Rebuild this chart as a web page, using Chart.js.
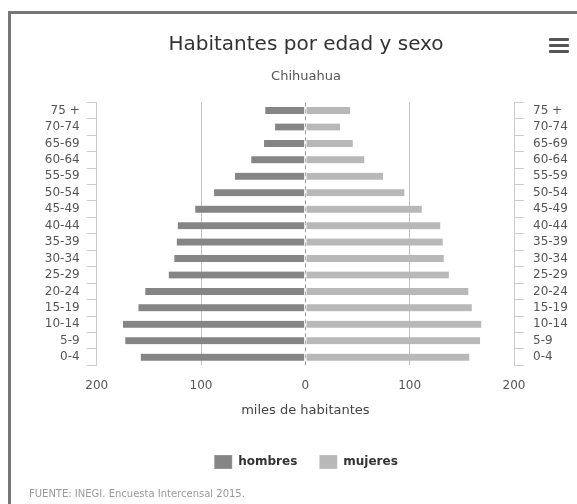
<!DOCTYPE html>
<html>
<head>
<meta charset="utf-8">
<script src="https://cdn.jsdelivr.net/npm/chart.js@4.4.1/dist/chart.umd.min.js"></script>
<style>
  html, body { margin: 0; padding: 0; background: #fff; overflow: hidden; width: 577px; height: 504px; }
  #frame { position: absolute; left: 8px; top: 11px; width: 594px; height: 520px; border: 3px solid #777; }
  #chart { position: absolute; left: 0; top: 0; }
  #menu { position: absolute; left: 538px; top: 24px; width: 20px; }
  #menu span { display: block; height: 3px; background: #555; margin-bottom: 3px; border-radius: 1px; }
  #source { position: absolute; left: 18px; top: 474px; font: 10px "DejaVu Sans", sans-serif; color: #999; white-space: nowrap; }
</style>
</head>
<body>
<div id="frame">
  <canvas id="chart" width="590" height="490" style="width:590px;height:490px"></canvas>
  <div id="menu"><span></span><span></span><span></span></div>
  <div id="source">FUENTE: INEGI. Encuesta Intercensal 2015.</div>
</div>
<script>
// Age groups, youngest first (drawn bottom to top)
const ageGroups = ['0-4', '5-9', '10-14', '15-19', '20-24', '25-29', '30-34', '35-39',
                   '40-44', '45-49', '50-54', '55-59', '60-64', '65-69', '70-74', '75 +'];
// Population in thousands
const hombres = [157.8, 172.6, 174.8, 160.0, 153.4, 131.0, 125.6, 123.3,
                 122.3, 105.5, 87.5, 67.4, 51.8, 39.6, 29.0, 38.4];
const mujeres = [157.2, 167.5, 168.7, 159.5, 156.3, 137.5, 132.7, 131.7,
                 129.4, 111.6, 95.0, 74.5, 56.6, 45.4, 33.3, 43.0];
const xTicks = [-200, -100, 0, 100, 200];

Chart.defaults.font.family = '"DejaVu Sans", sans-serif';
Chart.defaults.color = '#555';

// Dashed line at zero, placed with the x scale
const zeroLine = {
  id: 'zeroLine',
  beforeDatasetsDraw(chart) {
    const x = Math.round(chart.scales.x.getPixelForValue(0)) + 0.5;
    const { top, bottom } = chart.chartArea;
    const ctx = chart.ctx;
    ctx.save();
    ctx.strokeStyle = '#999';
    ctx.lineWidth = 1;
    ctx.setLineDash([4, 3]);
    ctx.beginPath();
    ctx.moveTo(x, top);
    ctx.lineTo(x, bottom);
    ctx.stroke();
    ctx.restore();
  }
};

const yAxisCommon = {
  type: 'category',
  labels: ageGroups,
  reverse: true,
  stacked: true,
  offset: true,
  grid: { drawOnChartArea: false, drawTicks: true, tickLength: 10, offset: true, color: '#ccc' },
  border: { color: '#ccc' },
  ticks: { font: { size: 12 }, color: '#555', padding: 7, autoSkip: false }
};

new Chart(document.getElementById('chart'), {
  type: 'bar',
  data: {
    labels: ageGroups,
    datasets: [
      {
        label: 'hombres',
        data: hombres.map(v => -v),
        backgroundColor: '#858585',
        borderColor: '#fff',
        borderWidth: { left: 0, right: 1, top: 0, bottom: 0 },
        borderSkipped: false,
        barThickness: 7,
        yAxisID: 'y'
      },
      {
        label: 'mujeres',
        data: mujeres,
        backgroundColor: '#b8b8b8',
        borderColor: '#fff',
        borderWidth: { left: 1, right: 0, top: 0, bottom: 0 },
        borderSkipped: false,
        barThickness: 7,
        yAxisID: 'y'
      }
    ]
  },
  plugins: [zeroLine],
  options: {
    responsive: false,
    animation: false,
    indexAxis: 'y',
    layout: { padding: { left: 0, right: 0, top: 0, bottom: 25 } },
    scales: {
      x: {
        type: 'linear',
        min: xTicks[0],
        max: xTicks[xTicks.length - 1],
        stacked: true,
        afterBuildTicks: (scale) => { scale.ticks = xTicks.map(v => ({ value: v })); },
        ticks: {
          font: { size: 12 },
          color: '#555',
          padding: 12.8,
          callback: (v) => Math.abs(v)
        },
        grid: {
          drawTicks: false,
          color: (ctx) => (ctx.tick && Math.abs(ctx.tick.value) === 100) ? '#c0c0c0' : 'rgba(0,0,0,0)'
        },
        border: { display: false },
        title: {
          display: true,
          text: 'miles de habitantes',
          color: '#444',
          font: { size: 13 },
          padding: { top: -3, bottom: 15 }
        }
      },
      y: Object.assign({}, yAxisCommon, {
        position: 'left',
        afterFit: (scale) => { scale.width = 85.7; }
      }),
      y2: Object.assign({}, yAxisCommon, {
        position: 'right',
        ticks: Object.assign({}, yAxisCommon.ticks, { padding: 9 }),
        afterFit: (scale) => { scale.width = 87; }
      })
    },
    plugins: {
      title: {
        display: true,
        text: 'Habitantes por edad y sexo',
        color: '#333',
        font: { size: 20, weight: 'normal' },
        padding: { top: 19, bottom: 12 }
      },
      subtitle: {
        display: true,
        text: 'Chihuahua',
        color: '#555',
        font: { size: 13 },
        padding: { top: 0, bottom: 17.7 }
      },
      legend: {
        position: 'bottom',
        labels: {
          boxWidth: 18,
          boxHeight: 14,
          padding: 22,
          color: '#333',
          font: { size: 12, weight: 'bold' }
        }
      },
      tooltip: { enabled: false }
    }
  }
});
</script>
</body>
</html>
